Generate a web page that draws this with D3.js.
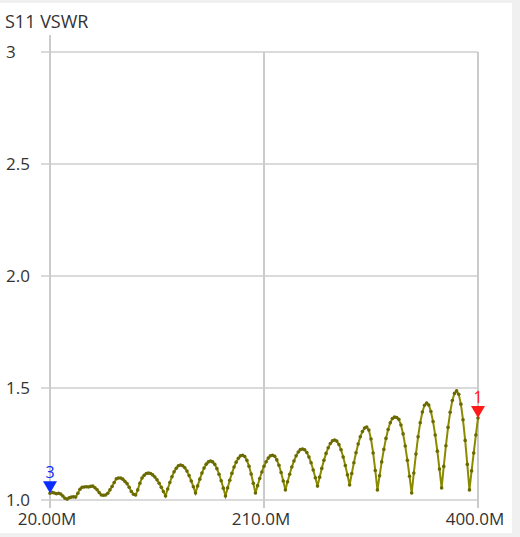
<!DOCTYPE html>
<html>
<head>
<meta charset="utf-8">
<script src="https://cdn.jsdelivr.net/npm/d3@7"></script>
<style>
  body { margin: 0; background: #f0f0f0; }
  svg { display: block; font-family: 'Open Sans', sans-serif; }
</style>
</head>
<body>
<div id="chart"></div>
<script>
// Sweep settings (MHz) and the measured VSWR, one value per sweep point
const sweepStartMHz = 20;
const sweepStopMHz = 400;
const vswr = [
  1.030, 1.034, 1.031, 1.028, 1.030, 1.027, 1.018, 1.008, 1.004, 1.010, 1.013,
  1.014, 1.013, 1.030, 1.048, 1.057, 1.058, 1.059, 1.058, 1.061, 1.062,
  1.055, 1.046, 1.033, 1.022, 1.021, 1.022, 1.030, 1.045, 1.060, 1.078,
  1.095, 1.098, 1.098, 1.093, 1.083, 1.073, 1.057, 1.038, 1.026, 1.022,
  1.045, 1.075, 1.098, 1.110, 1.118, 1.120, 1.118, 1.112, 1.103, 1.090,
  1.075, 1.057, 1.038, 1.018, 1.049, 1.078, 1.104, 1.126, 1.142, 1.153,
  1.156, 1.153, 1.144, 1.129, 1.109, 1.085, 1.059, 1.031, 1.063, 1.093,
  1.120, 1.143, 1.160, 1.170, 1.174, 1.170, 1.159, 1.140, 1.115, 1.086,
  1.053, 1.018, 1.054, 1.088, 1.119, 1.147, 1.169, 1.186, 1.197, 1.200,
  1.194, 1.177, 1.151, 1.116, 1.075, 1.031, 1.064, 1.096, 1.125, 1.151,
  1.171, 1.187, 1.197, 1.200, 1.195, 1.179, 1.155, 1.123, 1.085, 1.045,
  1.081, 1.115, 1.147, 1.174, 1.197, 1.214, 1.225, 1.228, 1.224, 1.212,
  1.192, 1.166, 1.134, 1.099, 1.062, 1.102, 1.141, 1.177, 1.208, 1.233,
  1.252, 1.264, 1.268, 1.263, 1.248, 1.224, 1.192, 1.154, 1.112, 1.067,
  1.118, 1.166, 1.211, 1.250, 1.282, 1.306, 1.321, 1.326, 1.312, 1.272,
  1.210, 1.132, 1.045, 1.108, 1.170, 1.226, 1.275, 1.315, 1.345, 1.364,
  1.370, 1.368, 1.360, 1.335, 1.295, 1.241, 1.177, 1.106, 1.031, 1.120,
  1.205, 1.282, 1.345, 1.393, 1.423, 1.433, 1.424, 1.395, 1.350, 1.290,
  1.218, 1.138, 1.054, 1.150, 1.242, 1.324, 1.392, 1.444, 1.476, 1.487,
  1.472, 1.428, 1.358, 1.266, 1.159, 1.045, 1.130, 1.210, 1.290, 1.366
];

const yTicks = [1.0, 1.5, 2.0, 2.5, 3];
const yTickLabels = ['1.0', '1.5', '2.0', '2.5', '3'];
const xTicks = [20, 210, 400];
const xTickLabels = ['20.00M', '210.0M', '400.0M'];

// Markers: label, sweep point index, colour
const markerLabels = ['3', '1'];
const markerIndex = [0, 200];
const markerColors = ['#0a2cff', '#ff1a1a'];

const width = 520;
const height = 537;
const plotLeft = 50, plotRight = 478, plotTop = 52, plotBottom = 500;

const freqs = vswr.map(function (d, i) {
  return sweepStartMHz + (i * (sweepStopMHz - sweepStartMHz)) / (vswr.length - 1);
});
const points = vswr.map(function (d, i) {
  return { f: freqs[i], v: d };
});

const x = d3.scaleLinear().domain([sweepStartMHz, sweepStopMHz]).range([plotLeft, plotRight]);
const y = d3.scaleLinear().domain([1, 3]).range([plotBottom, plotTop]);

const svg = d3
  .select('#chart')
  .append('svg')
  .attr('width', width)
  .attr('height', height);

// white panel
svg.append('rect')
  .attr('x', 0).attr('y', 3)
  .attr('width', 512).attr('height', 530)
  .attr('fill', '#ffffff');

// Title
svg.append('text')
  .attr('x', 5)
  .attr('y', 28)
  .attr('fill', '#333')
  .style('font-size', '18px')
  .text('S11 VSWR');

// Horizontal grid + y labels
svg.selectAll('.hgrid')
  .data(yTicks)
  .enter()
  .append('line')
  .attr('class', 'hgrid')
  .attr('x1', plotLeft - 9)
  .attr('x2', plotRight)
  .attr('y1', function (d) { return y(d); })
  .attr('y2', function (d) { return y(d); })
  .attr('stroke', '#dadada')
  .attr('stroke-width', 2);

svg.selectAll('.ylabel')
  .data(yTicks)
  .enter()
  .append('text')
  .attr('class', 'ylabel')
  .attr('x', 6)
  .attr('y', function (d) { return y(d); })
  .attr('dy', '0.35em')
  .attr('fill', '#333')
  .style('font-size', '17px')
  .text(function (d, i) { return yTickLabels[i]; });

// Vertical grid + x labels
svg.selectAll('.vgrid')
  .data(xTicks)
  .enter()
  .append('line')
  .attr('class', 'vgrid')
  .attr('x1', function (d) { return x(d); })
  .attr('x2', function (d) { return x(d); })
  .attr('y1', function (d, i) { return i === 0 ? plotTop - 17 : plotTop; })
  .attr('y2', plotBottom + 8)
  .attr('stroke', '#cbcbcb')
  .attr('stroke-width', 2);

svg.selectAll('.xlabel')
  .data(xTicks)
  .enter()
  .append('text')
  .attr('class', 'xlabel')
  .attr('x', function (d) { return x(d) - 3; })
  .attr('y', 525)
  .attr('text-anchor', 'middle')
  .attr('fill', '#333')
  .style('font-size', '17px')
  .text(function (d, i) { return xTickLabels[i]; });

// Trace
const line = d3.line()
  .x(function (d) { return x(d.f); })
  .y(function (d) { return y(d.v); });

svg.append('path')
  .datum(points)
  .attr('d', line)
  .attr('fill', 'none')
  .attr('stroke', '#8a8a00')
  .attr('stroke-width', 2);

svg.selectAll('.dot')
  .data(points)
  .enter()
  .append('circle')
  .attr('class', 'dot')
  .attr('cx', function (d) { return x(d.f); })
  .attr('cy', function (d) { return y(d.v); })
  .attr('r', 1.8)
  .attr('fill', '#6a6a00');

// Markers
const mk = svg.selectAll('.marker')
  .data(markerIndex)
  .enter()
  .append('g')
  .attr('class', 'marker')
  .attr('transform', function (d) {
    return 'translate(' + x(points[d].f) + ',' + y(points[d].v) + ')';
  });

mk.append('path')
  .attr('d', 'M-7,-12 L7,-12 L0,0 Z')
  .attr('fill', function (d, i) { return markerColors[i]; });

mk.append('text')
  .attr('x', 0)
  .attr('y', -15)
  .attr('text-anchor', 'middle')
  .attr('fill', function (d, i) { return markerColors[i]; })
  .style('font-size', '16px')
  .text(function (d, i) { return markerLabels[i]; });
</script>
</body>
</html>
